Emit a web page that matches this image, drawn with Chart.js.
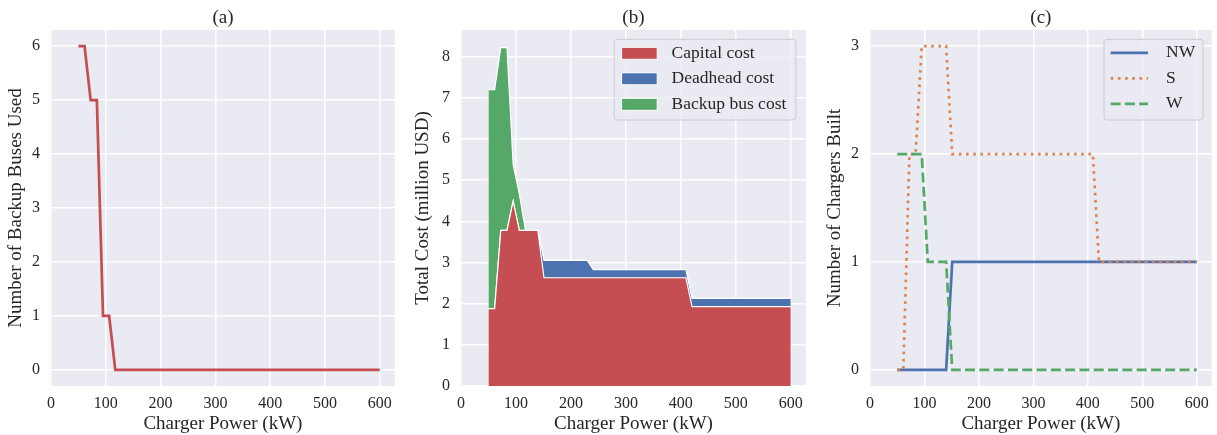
<!DOCTYPE html>
<html>
<head>
<meta charset="utf-8">
<script src="https://cdn.jsdelivr.net/npm/chart.js@4.4.1/dist/chart.umd.min.js"></script>
<style>
  body { margin: 0; background: #fff; width: 1217px; height: 435px; position: relative; overflow: hidden; }
  canvas { position: absolute; top: 0; }
</style>
</head>
<body>
<canvas id="chart-a" width="400" height="435" style="left:0"></canvas>
<canvas id="chart-b" width="406" height="435" style="left:405px"></canvas>
<canvas id="chart-c" width="402" height="435" style="left:815px"></canvas>
<script>
// charger power levels (kW), shared by all three panels
var power = [50, 61.2, 72.4, 83.7, 94.9, 106.1, 117.3, 128.6, 139.8, 151.0,
  162.2, 173.5, 184.7, 195.9, 207.1, 218.4, 229.6, 240.8, 252.0, 263.3,
  274.5, 285.7, 296.9, 308.2, 319.4, 330.6, 341.8, 353.1, 364.3, 375.5,
  386.7, 398.0, 409.2, 420.4, 431.6, 442.9, 454.1, 465.3, 476.5, 487.8,
  499.0, 510.2, 521.4, 532.7, 543.9, 555.1, 566.3, 577.6, 588.8, 600];

// (a) backup buses used
var backupBuses = [6, 6, 5, 5, 1, 1, 0, 0, 0, 0,
  0, 0, 0, 0, 0, 0, 0, 0, 0, 0,
  0, 0, 0, 0, 0, 0, 0, 0, 0, 0,
  0, 0, 0, 0, 0, 0, 0, 0, 0, 0,
  0, 0, 0, 0, 0, 0, 0, 0, 0, 0];

// (b) cost components, million USD
var capitalCost = [1.88, 1.88, 3.78, 3.78, 4.49, 3.78, 3.78, 3.78, 3.78, 2.63,
  2.63, 2.63, 2.63, 2.63, 2.63, 2.63, 2.63, 2.63, 2.63, 2.63,
  2.63, 2.63, 2.63, 2.63, 2.63, 2.63, 2.63, 2.63, 2.63, 2.63,
  2.63, 2.63, 2.63, 1.93, 1.93, 1.93, 1.93, 1.93, 1.93, 1.93,
  1.93, 1.93, 1.93, 1.93, 1.93, 1.93, 1.93, 1.93, 1.93, 1.93];
var deadheadCost = [0, 0, 0, 0, 0, 0, 0, 0, 0, 0.42,
  0.42, 0.42, 0.42, 0.42, 0.42, 0.42, 0.42, 0.2, 0.2, 0.2,
  0.2, 0.2, 0.2, 0.2, 0.2, 0.2, 0.2, 0.2, 0.2, 0.2,
  0.2, 0.2, 0.2, 0.2, 0.2, 0.2, 0.2, 0.2, 0.2, 0.2,
  0.2, 0.2, 0.2, 0.2, 0.2, 0.2, 0.2, 0.2, 0.2, 0.2];
var backupCost = [5.32, 5.32, 4.44, 4.44, 0.89, 0.89, 0, 0, 0, 0,
  0, 0, 0, 0, 0, 0, 0, 0, 0, 0,
  0, 0, 0, 0, 0, 0, 0, 0, 0, 0,
  0, 0, 0, 0, 0, 0, 0, 0, 0, 0,
  0, 0, 0, 0, 0, 0, 0, 0, 0, 0];

// (c) chargers built per location
var chargersNW = [0, 0, 0, 0, 0, 0, 0, 0, 0, 1,
  1, 1, 1, 1, 1, 1, 1, 1, 1, 1,
  1, 1, 1, 1, 1, 1, 1, 1, 1, 1,
  1, 1, 1, 1, 1, 1, 1, 1, 1, 1,
  1, 1, 1, 1, 1, 1, 1, 1, 1, 1];
var chargersS = [0, 0, 2, 2, 3, 3, 3, 3, 3, 2,
  2, 2, 2, 2, 2, 2, 2, 2, 2, 2,
  2, 2, 2, 2, 2, 2, 2, 2, 2, 2,
  2, 2, 2, 1, 1, 1, 1, 1, 1, 1,
  1, 1, 1, 1, 1, 1, 1, 1, 1, 1];
var chargersW = [2, 2, 2, 2, 2, 1, 1, 1, 1, 0,
  0, 0, 0, 0, 0, 0, 0, 0, 0, 0,
  0, 0, 0, 0, 0, 0, 0, 0, 0, 0,
  0, 0, 0, 0, 0, 0, 0, 0, 0, 0,
  0, 0, 0, 0, 0, 0, 0, 0, 0, 0];

// tick labels
var xTicks = [0, 100, 200, 300, 400, 500, 600];
var yTicksA = [0, 1, 2, 3, 4, 5, 6];
var yTicksB = [0, 1, 2, 3, 4, 5, 6, 7, 8];
var yTicksC = [0, 1, 2, 3];

var FONT = "'Liberation Serif', 'DejaVu Serif', 'Times New Roman', serif";
var INK = '#262626';
Chart.defaults.font.family = FONT;
Chart.defaults.color = INK;
Chart.defaults.animation = false;

function pts(ys) { return power.map(function(x, i) { return { x: x, y: ys[i] }; }); }
function fixTicks(list) { return function(s) { s.ticks = list.map(function(v) { return { value: v }; }); }; }

var bgPlugin = { id: 'bg', beforeDraw: function(c) {
  var a = c.chartArea, ctx = c.ctx;
  ctx.save(); ctx.fillStyle = '#eaeaf2'; ctx.fillRect(a.left, a.top, a.right - a.left, a.bottom - a.top); ctx.restore();
} };

var legendPlugin = { id: 'boxLegend', afterDatasetsDraw: function(c, args, o) {
  if (!o || !o.width) return;
  var ctx = c.ctx, a = c.chartArea;
  var L = a.right - o.right - o.width, T = a.top + o.top, r = 3;
  ctx.save();
  ctx.beginPath();
  ctx.moveTo(L + r, T); ctx.lineTo(L + o.width - r, T); ctx.arcTo(L + o.width, T, L + o.width, T + r, r);
  ctx.lineTo(L + o.width, T + o.height - r); ctx.arcTo(L + o.width, T + o.height, L + o.width - r, T + o.height, r);
  ctx.lineTo(L + r, T + o.height); ctx.arcTo(L, T + o.height, L, T + o.height - r, r);
  ctx.lineTo(L, T + r); ctx.arcTo(L, T, L + r, T, r); ctx.closePath();
  ctx.fillStyle = 'rgba(234,234,242,0.8)'; ctx.fill();
  ctx.strokeStyle = '#cccccc'; ctx.lineWidth = 1; ctx.stroke();
  c.data.datasets.forEach(function(d, i) {
    var cy = T + o.first + i * o.gap;
    if (o.kind === 'patch') {
      ctx.fillStyle = d.backgroundColor; ctx.fillRect(L + o.sx, cy - 6, o.sw, 12);
      ctx.strokeStyle = '#ffffff'; ctx.lineWidth = 1; ctx.strokeRect(L + o.sx, cy - 6, o.sw, 12);
    } else {
      ctx.strokeStyle = d.borderColor; ctx.lineWidth = d.borderWidth; ctx.lineCap = 'butt';
      ctx.setLineDash(d.borderDash || []);
      ctx.beginPath(); ctx.moveTo(L + o.sx, cy); ctx.lineTo(L + o.sx + o.sw, cy); ctx.stroke();
      ctx.setLineDash([]);
    }
    ctx.fillStyle = INK; ctx.font = '17.5px ' + FONT; ctx.textBaseline = 'middle'; ctx.textAlign = 'left';
    ctx.fillText(d.label, L + o.tx, cy);
  });
  ctx.restore();
} };

function scales(yTicks, ymin, ymax, yTitle, yWidth, titlePad, stacked) {
  return {
    x: {
      type: 'linear', min: 0, max: 627.5,
      afterBuildTicks: fixTicks(xTicks),
      afterFit: function(s) { s.height = 49; },
      grid: { color: '#ffffff', lineWidth: 1.5, drawTicks: false }, border: { display: false },
      ticks: { padding: 8, font: { size: 16 }, autoSkip: false, maxRotation: 0 },
      title: { display: true, text: 'Charger Power (kW)', font: { size: 19 }, padding: { top: 0, bottom: 0 } }
    },
    y: {
      type: 'linear', min: ymin, max: ymax, stacked: !!stacked,
      afterBuildTicks: fixTicks(yTicks),
      afterFit: function(s) { s.width = yWidth; },
      grid: { color: '#ffffff', lineWidth: 1.5, drawTicks: false }, border: { display: false },
      ticks: { padding: 11, font: { size: 16 }, autoSkip: false },
      title: { display: true, text: yTitle, font: { size: 19 }, padding: { top: titlePad, bottom: 0 } }
    }
  };
}

function plugins(title, legend) {
  return {
    legend: { display: false }, tooltip: { enabled: false },
    title: { display: true, text: title, fullSize: false, font: { size: 19, weight: 'normal' }, padding: { top: 7, bottom: 0.2 }, color: INK },
    boxLegend: legend || {}
  };
}

new Chart(document.getElementById('chart-a'), {
  type: 'line',
  data: { datasets: [{ label: 'Backup buses', data: pts(backupBuses), borderColor: '#c44e52', borderWidth: 2.7, pointRadius: 0, tension: 0, fill: false }] },
  options: { responsive: false, events: [], layout: { padding: { right: 5 } },
    scales: scales(yTicksA, -0.3, 6.3, 'Number of Backup Buses Used', 51, 5), plugins: plugins('(a)') },
  plugins: [bgPlugin, legendPlugin]
});

new Chart(document.getElementById('chart-b'), {
  type: 'line',
  data: { datasets: [
    { label: 'Capital cost', data: pts(capitalCost), backgroundColor: '#c44e52', borderColor: '#ffffff', borderWidth: 1.2, pointRadius: 0, tension: 0, fill: 'origin' },
    { label: 'Deadhead cost', data: pts(deadheadCost), backgroundColor: '#4c72b0', borderColor: '#ffffff', borderWidth: 1.2, pointRadius: 0, tension: 0, fill: '-1' },
    { label: 'Backup bus cost', data: pts(backupCost), backgroundColor: '#55a868', borderColor: '#ffffff', borderWidth: 1.2, pointRadius: 0, tension: 0, fill: '-1' }
  ] },
  options: { responsive: false, events: [], layout: { padding: { right: 5 } },
    scales: scales(yTicksB, 0, 8.65, 'Total Cost (million USD)', 56, 7, true),
    plugins: plugins('(b)', { kind: 'patch', width: 181.7, height: 80.7, right: 10, top: 9.3, first: 14, gap: 25.5, sx: 7.4, sw: 35.6, tx: 57.4 }) },
  plugins: [bgPlugin, legendPlugin]
});

new Chart(document.getElementById('chart-c'), {
  type: 'line',
  data: { datasets: [
    { label: 'NW', data: pts(chargersNW), borderColor: '#4c72b0', borderWidth: 2.7, pointRadius: 0, tension: 0, fill: false, order: 3 },
    { label: 'S', data: pts(chargersS), borderColor: '#dd8452', borderWidth: 2.7, borderDash: [2.7, 4.5], pointRadius: 0, tension: 0, fill: false, order: 2 },
    { label: 'W', data: pts(chargersW), borderColor: '#55a868', borderWidth: 2.7, borderDash: [10, 4.3], pointRadius: 0, tension: 0, fill: false, order: 1 }
  ] },
  options: { responsive: false, events: [], layout: { padding: { right: 2.6 } },
    scales: scales(yTicksC, -0.15, 3.15, 'Number of Chargers Built', 55, 8.6),
    plugins: plugins('(c)', { kind: 'line', width: 99, height: 80.7, right: 8.7, top: 9.3, first: 13.5, gap: 25.5, sx: 6.6, sw: 37.4, tx: 62 }) },
  plugins: [bgPlugin, legendPlugin]
});
</script>
</body>
</html>
